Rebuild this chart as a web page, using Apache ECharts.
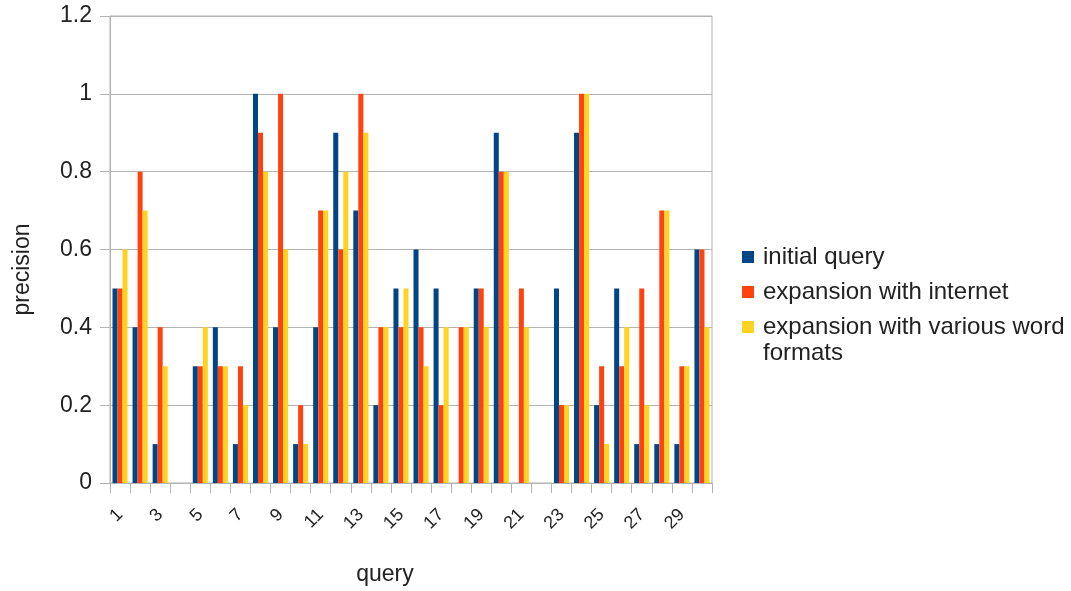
<!DOCTYPE html>
<html>
<head>
<meta charset="utf-8">
<script src="https://cdn.jsdelivr.net/npm/echarts@6/dist/echarts.min.js"></script>
<style>
  html, body { margin: 0; padding: 0; background: #ffffff; }
  #chart { width: 1071px; height: 591px; }
</style>
</head>
<body>
<div id="chart"></div>
<script>
// Query numbers 1..30
const queries = Array.from({ length: 30 }, (_, i) => String(i + 1));

// Precision per query for each retrieval setting
const initialQuery = [0.5, 0.4, 0.1, 0, 0.3, 0.4, 0.1, 1.0, 0.4, 0.1,
                      0.4, 0.9, 0.7, 0.2, 0.5, 0.6, 0.5, 0, 0.5, 0.9,
                      0, 0, 0.5, 0.9, 0.2, 0.5, 0.1, 0.1, 0.1, 0.6];
const expansionInternet = [0.5, 0.8, 0.4, 0, 0.3, 0.3, 0.3, 0.9, 1.0, 0.2,
                           0.7, 0.6, 1.0, 0.4, 0.4, 0.4, 0.2, 0.4, 0.5, 0.8,
                           0.5, 0, 0.2, 1.0, 0.3, 0.3, 0.5, 0.7, 0.3, 0.6];
const expansionWordFormats = [0.6, 0.7, 0.3, 0, 0.4, 0.3, 0.2, 0.8, 0.6, 0.1,
                              0.7, 0.8, 0.9, 0.4, 0.5, 0.3, 0.4, 0.4, 0.4, 0.8,
                              0.4, 0, 0.2, 1.0, 0.1, 0.4, 0.2, 0.7, 0.3, 0.4];

const seriesNames = ['initial query', 'expansion with internet', 'expansion with various word formats'];
const seriesColors = ['#004586', '#ff420e', '#ffd320'];

const FONT = 'Liberation Sans, Arial, sans-serif';
const TEXT = '#222222';
const GRID = '#b3b3b3';

const chart = echarts.init(document.getElementById('chart'), null, { renderer: 'canvas' });

const makeSeries = (name, data, color) => ({
  name: name,
  type: 'bar',
  data: data,
  barGap: '0%',
  barCategoryGap: '25%',
  itemStyle: { color: color },
  emphasis: { disabled: true },
  animation: false
});

chart.setOption({
  animation: false,
  grid: {
    left: 110, right: 359, top: 16, bottom: 107,
    show: true, borderColor: GRID, borderWidth: 1,
    containLabel: false
  },
  legend: {
    orient: 'vertical',
    left: 742, top: 244,
    padding: 0,
    itemWidth: 12, itemHeight: 12,
    itemGap: 9,
    icon: 'rect',
    selectedMode: false,
    data: seriesNames,
    // the long name wraps: its second line is drawn as a separate text below
    formatter: function (name) {
      return name === seriesNames[2] ? 'expansion with various word' : name;
    },
    textStyle: {
      fontFamily: FONT, fontSize: 24, color: TEXT,
      lineHeight: 26, padding: [0, 0, 0, 4]
    }
  },
  graphic: [{
    type: 'text',
    left: 763, top: 341,
    style: { text: 'formats', font: '24px ' + FONT, fill: TEXT }
  }],
  xAxis: {
    type: 'category',
    data: queries,
    name: 'query',
    nameLocation: 'middle',
    nameGap: 80,
    nameTextStyle: { fontFamily: FONT, fontSize: 23, color: TEXT, padding: [0, 52, 0, 0] },
    axisLine: { lineStyle: { color: GRID } },
    axisTick: { show: true, alignWithLabel: false, interval: 0, length: 10, lineStyle: { color: GRID } },
    axisLabel: {
      interval: 1, rotate: 45, margin: 29,
      fontFamily: FONT, fontSize: 18, color: TEXT
    },
    splitLine: { show: false }
  },
  yAxis: {
    type: 'value',
    min: 0, max: 1.2, interval: 0.2,
    name: 'precision',
    nameLocation: 'middle',
    nameGap: 76,
    nameTextStyle: { fontFamily: FONT, fontSize: 23, color: TEXT, padding: [0, 40, 0, 0] },
    axisLine: { show: true, lineStyle: { color: GRID } },
    axisTick: { show: true, inside: false, length: 10, lineStyle: { color: GRID } },
    axisLabel: { margin: 18, fontFamily: FONT, fontSize: 23, color: TEXT },
    splitLine: { show: true, lineStyle: { color: GRID, width: 1 } }
  },
  series: [
    makeSeries(seriesNames[0], initialQuery, seriesColors[0]),
    makeSeries(seriesNames[1], expansionInternet, seriesColors[1]),
    makeSeries(seriesNames[2], expansionWordFormats, seriesColors[2])
  ]
});
</script>
</body>
</html>
